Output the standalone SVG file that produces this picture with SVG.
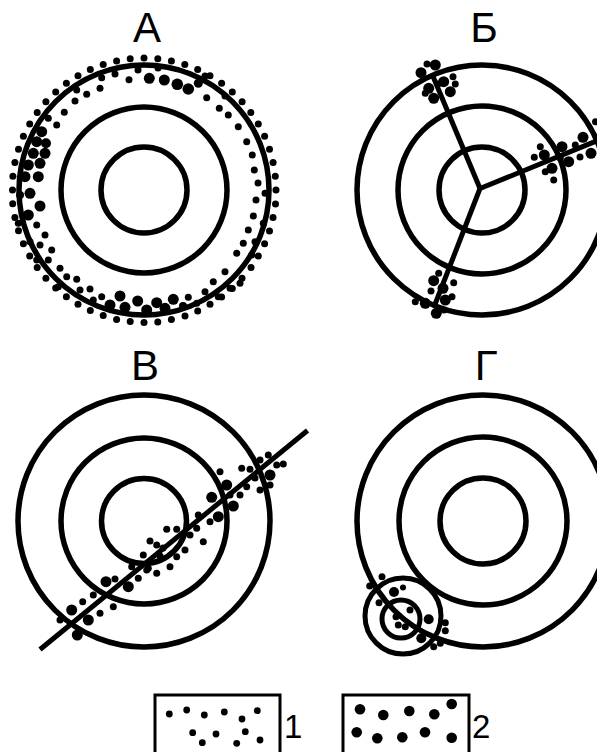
<svg xmlns="http://www.w3.org/2000/svg" width="597" height="752" viewBox="0 0 597 752">
<style>
.ring{fill:none;stroke:#000;stroke-width:5.5}
.thin{fill:none;stroke:#000;stroke-width:5}
.ln{stroke:#000;stroke-width:5;stroke-linecap:butt;fill:none}
.d{fill:#000}
.lbl{font-family:"Liberation Sans",Arial,sans-serif;font-size:42px;fill:#000;text-anchor:middle}
.lg{font-family:"Liberation Sans",Arial,sans-serif;font-size:33px;fill:#000}
.box{fill:none;stroke:#000;stroke-width:3}
</style>
<rect width="597" height="752" fill="#fff"/>

<g id="panel-A">
<text class="lbl" x="147" y="42">А</text>
<circle class="ring" cx="144" cy="190" r="43"/>
<circle class="ring" cx="144" cy="190" r="83"/>
<circle class="ring" cx="144" cy="190" r="125"/>
<g class="d">
<circle cx="276" cy="190" r="3.5"/><circle cx="275.5" cy="204" r="3.5"/><circle cx="273" cy="217.4" r="3.5"/><circle cx="269.5" cy="231" r="3.5"/><circle cx="264.6" cy="243.7" r="3.5"/><circle cx="258.3" cy="256" r="3.5"/><circle cx="251" cy="267.6" r="3.5"/><circle cx="242" cy="278.3" r="3.5"/><circle cx="232.3" cy="288.5" r="3.5"/><circle cx="221.6" cy="297" r="3.5"/><circle cx="210" cy="304.3" r="3.5"/><circle cx="197.7" cy="311" r="3.5"/><circle cx="185" cy="316" r="3.5"/><circle cx="171.4" cy="319.5" r="3.5"/><circle cx="157.8" cy="322" r="3.5"/><circle cx="144" cy="322.5" r="3.5"/>
<circle cx="130.2" cy="321.5" r="3.5"/><circle cx="116.6" cy="319.5" r="3.5"/><circle cx="103.2" cy="315.5" r="3.5"/><circle cx="90.3" cy="310.6" r="3.5"/><circle cx="78" cy="304.3" r="3.5"/><circle cx="66.4" cy="296.8" r="3.5"/><circle cx="55.7" cy="288.1" r="3.5"/><circle cx="45.9" cy="278.3" r="3.5"/><circle cx="37.2" cy="267.6" r="3.5"/><circle cx="29.7" cy="256" r="3.5"/><circle cx="23.4" cy="243.7" r="3.5"/><circle cx="18.5" cy="230.8" r="3.5"/><circle cx="14.9" cy="217.4" r="3.5"/><circle cx="12.7" cy="203.8" r="3.5"/><circle cx="12.5" cy="190" r="3.5"/>
<circle cx="12.9" cy="176.2" r="3.5"/><circle cx="14.9" cy="162.6" r="3.5"/><circle cx="18.5" cy="149.2" r="3.5"/><circle cx="23.4" cy="136.3" r="3.5"/><circle cx="29.7" cy="124" r="3.5"/><circle cx="37.2" cy="112.4" r="3.5"/><circle cx="45.9" cy="101.7" r="3.5"/><circle cx="55.7" cy="91.9" r="3.5"/><circle cx="66.4" cy="83.2" r="3.5"/><circle cx="78" cy="75.7" r="3.5"/><circle cx="90.3" cy="69.4" r="3.5"/><circle cx="103.2" cy="64.5" r="3.5"/><circle cx="116.6" cy="60.9" r="3.5"/><circle cx="130.2" cy="58.7" r="3.5"/><circle cx="144" cy="58" r="3.5"/>
<circle cx="157.8" cy="58.7" r="3.5"/><circle cx="171.4" cy="60.9" r="3.5"/><circle cx="184.8" cy="64.5" r="3.5"/><circle cx="197.7" cy="69.4" r="3.5"/><circle cx="210" cy="75.7" r="3.5"/><circle cx="221.6" cy="83.2" r="3.5"/><circle cx="232.3" cy="91.9" r="3.5"/><circle cx="242.1" cy="101.7" r="3.5"/><circle cx="250.8" cy="112.4" r="3.5"/><circle cx="258.3" cy="124" r="3.5"/><circle cx="264.6" cy="136.3" r="3.5"/><circle cx="269.5" cy="149.2" r="3.5"/><circle cx="273.1" cy="162.6" r="3.5"/><circle cx="275.3" cy="176.2" r="3.5"/>

<circle cx="115" cy="74" r="3.5"/><circle cx="129" cy="79.7" r="3.5"/><circle cx="138" cy="70" r="3.5"/><circle cx="149.3" cy="78.3" r="5.5"/><circle cx="164.3" cy="80" r="5.5"/><circle cx="177.3" cy="84.3" r="5.8"/><circle cx="188.3" cy="89" r="5.8"/><circle cx="198.3" cy="83.3" r="4.5"/><circle cx="206.7" cy="97.7" r="3.5"/><circle cx="219.3" cy="108.3" r="3.5"/><circle cx="228.3" cy="115" r="3.5"/><circle cx="238.3" cy="126.7" r="3.5"/><circle cx="246.7" cy="141.7" r="3.5"/><circle cx="252.3" cy="155" r="3.5"/><circle cx="254.3" cy="170" r="3.5"/><circle cx="258" cy="183" r="3.5"/><circle cx="101.7" cy="77.7" r="3.5"/><circle cx="100" cy="88.3" r="3.5"/><circle cx="86.7" cy="94.3" r="3.5"/><circle cx="76.7" cy="90" r="3.5"/><circle cx="75" cy="101" r="3.5"/><circle cx="64.3" cy="112.3" r="3.5"/><circle cx="56.7" cy="125" r="3.5"/><circle cx="48.3" cy="118.3" r="3.5"/><circle cx="205" cy="76" r="3.5"/><circle cx="158" cy="68" r="3.5"/><circle cx="225" cy="96" r="3.5"/>
<circle cx="41.7" cy="131.7" r="5.5"/><circle cx="36.7" cy="141.7" r="5.5"/><circle cx="46" cy="143.3" r="5"/><circle cx="33.3" cy="153.3" r="5.5"/><circle cx="45" cy="153.3" r="5.5"/><circle cx="28.3" cy="165" r="5.5"/><circle cx="40" cy="163.3" r="5.5"/><circle cx="38.3" cy="176.7" r="5.5"/><circle cx="25" cy="176.7" r="5.5"/><circle cx="30" cy="193.3" r="5.5"/><circle cx="40" cy="206" r="5.5"/><circle cx="28.3" cy="215" r="5.5"/><circle cx="20" cy="195" r="4"/><circle cx="18.3" cy="223.3" r="3.5"/><circle cx="36.7" cy="225" r="3.5"/><circle cx="45" cy="235" r="3.5"/><circle cx="30" cy="241.7" r="3.5"/><circle cx="40" cy="245" r="3.5"/><circle cx="51.7" cy="250" r="3.5"/><circle cx="36.7" cy="260" r="3.5"/><circle cx="48.3" cy="260" r="3.5"/><circle cx="60" cy="268.3" r="3.5"/><circle cx="66.7" cy="276.7" r="3.5"/><circle cx="76.7" cy="279.3" r="3.5"/><circle cx="58.3" cy="286.7" r="3.5"/><circle cx="80" cy="290" r="3.5"/><circle cx="90" cy="289" r="3.5"/><circle cx="101.7" cy="296.7" r="3.5"/><circle cx="93.3" cy="300" r="3.5"/>
<circle cx="120" cy="296" r="5.5"/><circle cx="137.7" cy="301" r="5.5"/><circle cx="156.7" cy="302.7" r="5.5"/><circle cx="173.3" cy="299.3" r="5.5"/><circle cx="110" cy="305" r="5.5"/><circle cx="125" cy="307.3" r="5.5"/><circle cx="146.7" cy="310" r="5.5"/><circle cx="165" cy="308.3" r="5.5"/><circle cx="183" cy="306" r="4"/>
<circle cx="265" cy="193.3" r="3.5"/><circle cx="253.3" cy="216" r="3.5"/><circle cx="263.3" cy="223.3" r="3.5"/><circle cx="248.3" cy="230" r="3.5"/><circle cx="243.3" cy="243.3" r="3.5"/><circle cx="255" cy="241.7" r="3.5"/><circle cx="236.7" cy="253.3" r="3.5"/><circle cx="251.7" cy="255" r="3.5"/><circle cx="225" cy="271.7" r="3.5"/><circle cx="240" cy="283.3" r="3.5"/><circle cx="213.3" cy="281.7" r="3.5"/><circle cx="230" cy="288.3" r="3.5"/><circle cx="205" cy="291.7" r="3.5"/><circle cx="218.3" cy="296.7" r="3.5"/><circle cx="188.3" cy="297.3" r="3.5"/><circle cx="196.7" cy="303.3" r="3.5"/><circle cx="256" cy="200" r="3.5"/>
</g>
</g>

<g id="panel-B">
<text class="lbl" x="484" y="42">Б</text>
<circle class="ring" cx="482" cy="190" r="43"/>
<circle class="ring" cx="482" cy="190" r="84"/>
<circle class="ring" cx="482" cy="190" r="125"/>
<g class="ln">
<line x1="480" y1="188.5" x2="432" y2="74"/>
<line x1="480" y1="188.5" x2="599" y2="140"/>
<line x1="480" y1="188.5" x2="434" y2="307"/>
</g>
<g class="d">
<circle cx="421" cy="72.7" r="5.5"/><circle cx="435.3" cy="65" r="5.5"/><circle cx="427" cy="64" r="3.5"/><circle cx="443.7" cy="81.7" r="5.5"/><circle cx="450.3" cy="91.7" r="5.5"/><circle cx="428.7" cy="88.3" r="5.5"/><circle cx="433.7" cy="98.3" r="5.5"/><circle cx="425.3" cy="93.3" r="3.5"/><circle cx="453" cy="76.7" r="3.5"/><circle cx="455.3" cy="84" r="3.5"/><circle cx="438" cy="84" r="3.5"/>
<circle cx="534.3" cy="157.3" r="3.5"/><circle cx="540.3" cy="146.7" r="3.5"/><circle cx="544.3" cy="155" r="5.5"/><circle cx="552" cy="168.3" r="5.5"/><circle cx="553.7" cy="180" r="3.5"/><circle cx="545.3" cy="171.7" r="3.5"/><circle cx="562" cy="146.7" r="5.5"/><circle cx="568.7" cy="161.7" r="5.5"/><circle cx="575.3" cy="145" r="3.5"/><circle cx="583" cy="137.3" r="5.5"/><circle cx="591" cy="153.3" r="5.5"/><circle cx="595.5" cy="121.7" r="3.5"/><circle cx="580" cy="157" r="3.5"/><circle cx="560.3" cy="158.3" r="3.5"/>
<circle cx="433.7" cy="280.7" r="5.5"/><circle cx="443" cy="288.3" r="5.5"/><circle cx="431" cy="291" r="3.5"/><circle cx="453.7" cy="282.7" r="3.5"/><circle cx="425.3" cy="303.3" r="5.5"/><circle cx="436.3" cy="313.3" r="5.5"/><circle cx="445.3" cy="300" r="5.5"/><circle cx="415.3" cy="301.7" r="3.5"/><circle cx="452" cy="296.7" r="3.5"/><circle cx="444" cy="310" r="3.5"/><circle cx="438.7" cy="273.3" r="3.5"/>
</g>
</g>

<g id="panel-V">
<text class="lbl" x="145" y="380">В</text>
<circle class="ring" cx="144" cy="521" r="42.5"/>
<circle class="ring" cx="144" cy="521" r="83"/>
<circle class="ring" cx="144" cy="521" r="126"/>
<line class="ln" x1="40" y1="649.5" x2="307.5" y2="430.5"/>
<g class="d">
<circle cx="71.7" cy="610" r="5.5"/><circle cx="77.3" cy="635" r="5.5"/><circle cx="88.3" cy="620" r="5.5"/><circle cx="60" cy="620" r="3.5"/><circle cx="100" cy="613.3" r="3.5"/><circle cx="113.3" cy="606.7" r="3.5"/><circle cx="82.7" cy="601.7" r="3.5"/><circle cx="106" cy="581.7" r="5.5"/><circle cx="128.3" cy="586.7" r="5.5"/><circle cx="115" cy="579" r="3.5"/><circle cx="93.3" cy="595" r="3.5"/><circle cx="138.3" cy="578.3" r="3.5"/><circle cx="146.7" cy="570" r="3.5"/><circle cx="156.7" cy="573.3" r="3.5"/>
<circle cx="131.7" cy="566.7" r="3.5"/><circle cx="143.3" cy="555" r="3.5"/><circle cx="148.3" cy="568.3" r="3.5"/><circle cx="156.7" cy="545" r="3.5"/><circle cx="160" cy="556" r="3.5"/><circle cx="150" cy="541" r="3.5"/><circle cx="166.7" cy="529.3" r="3.5"/><circle cx="176.7" cy="529.3" r="3.5"/><circle cx="170" cy="566.7" r="3.5"/><circle cx="176.7" cy="556.7" r="3.5"/><circle cx="185" cy="550" r="3.5"/><circle cx="190" cy="535" r="3.5"/><circle cx="196.7" cy="528.3" r="3.5"/><circle cx="203.3" cy="541.7" r="3.5"/><circle cx="198.3" cy="515" r="3.5"/><circle cx="210" cy="521.7" r="3.5"/><circle cx="163" cy="548" r="3.5"/>
<circle cx="211.7" cy="497.3" r="5.5"/><circle cx="218.3" cy="516.7" r="5.5"/><circle cx="220" cy="471.7" r="3.5"/><circle cx="226.7" cy="485" r="5.5"/><circle cx="233.3" cy="506" r="5.5"/><circle cx="230" cy="495" r="3.5"/><circle cx="240" cy="495" r="3.5"/><circle cx="241.7" cy="468.3" r="3.5"/><circle cx="250" cy="469.3" r="3.5"/><circle cx="246.7" cy="486.7" r="3.5"/><circle cx="260" cy="460" r="3.5"/><circle cx="268.3" cy="455" r="3.5"/><circle cx="270" cy="475" r="5.5"/><circle cx="276.7" cy="465" r="3.5"/><circle cx="283.3" cy="464" r="3.5"/><circle cx="270" cy="485" r="3.5"/><circle cx="260" cy="490" r="3.5"/><circle cx="255" cy="478" r="3.5"/>
</g>
</g>

<g id="panel-G">
<text class="lbl" x="486" y="380">Г</text>
<circle class="ring" cx="483" cy="521" r="43"/>
<circle class="ring" cx="483" cy="521" r="84"/>
<circle class="ring" cx="483" cy="521" r="126"/>
<circle class="thin" cx="403" cy="616" r="38"/>
<circle class="thin" cx="401" cy="619" r="19"/>
<g class="d">
<circle cx="369.7" cy="586" r="3.5"/><circle cx="382" cy="576.7" r="3.5"/><circle cx="394" cy="592" r="5"/><circle cx="403" cy="587.5" r="3"/><circle cx="379" cy="602.7" r="3.5"/><circle cx="410" cy="610" r="3.5"/><circle cx="396" cy="616.7" r="3.5"/><circle cx="405.3" cy="626.7" r="3.5"/><circle cx="428.7" cy="619.3" r="5"/><circle cx="445.3" cy="622.7" r="3.5"/><circle cx="445.3" cy="630.7" r="3.5"/><circle cx="421.3" cy="638.3" r="5"/><circle cx="440.3" cy="643.3" r="3.5"/><circle cx="433.7" cy="646.7" r="3.5"/><circle cx="398.3" cy="625" r="3.5"/>
</g>
</g>

<g id="legend-1">
<rect class="box" x="155" y="695" width="125" height="70"/>
<g class="d">
<circle cx="169.3" cy="714" r="3.4"/><circle cx="186.7" cy="710" r="3.4"/><circle cx="204.3" cy="715" r="3.4"/><circle cx="224.3" cy="712" r="3.4"/><circle cx="242" cy="719" r="3.4"/><circle cx="257.3" cy="710.7" r="3.4"/><circle cx="192.7" cy="732.7" r="3.4"/><circle cx="216" cy="734" r="3.4"/><circle cx="245.3" cy="731.7" r="3.4"/><circle cx="202.3" cy="742.7" r="3.4"/><circle cx="236.7" cy="743.3" r="3.4"/><circle cx="260" cy="740" r="3.4"/>
</g>
<text class="lg" x="284" y="738">1</text>
</g>

<g id="legend-2">
<rect class="box" x="343" y="695" width="126" height="70"/>
<g class="d">
<circle cx="360" cy="709.3" r="5.3"/><circle cx="383.3" cy="715" r="5.3"/><circle cx="409.3" cy="711" r="5.3"/><circle cx="434.3" cy="714.3" r="5.3"/><circle cx="451.7" cy="704" r="5.3"/><circle cx="356.7" cy="732.3" r="5.3"/><circle cx="377.3" cy="738.3" r="5.3"/><circle cx="402.3" cy="737.3" r="5.3"/><circle cx="425" cy="732.3" r="5.3"/><circle cx="451.7" cy="737.7" r="5.3"/>
</g>
<text class="lg" x="472" y="738">2</text>
</g>
</svg>
